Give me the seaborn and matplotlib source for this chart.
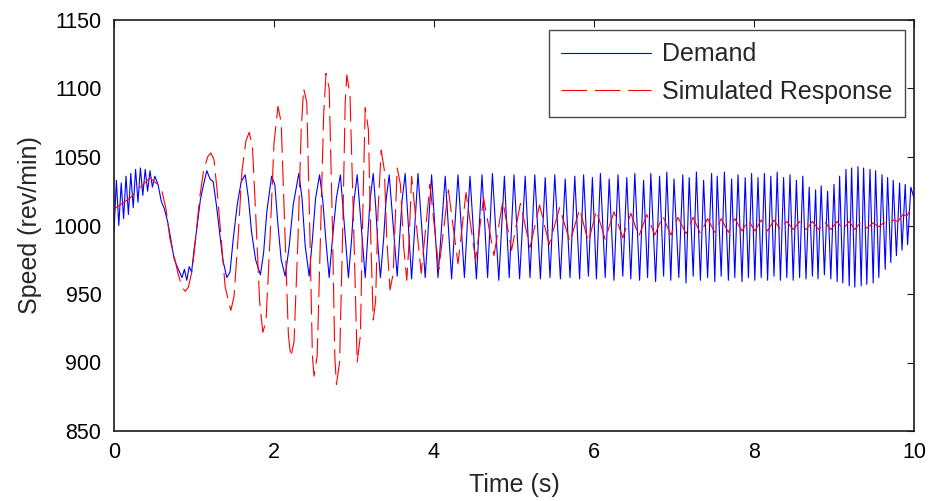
import matplotlib
matplotlib.use("Agg")
import matplotlib.pyplot as plt
import seaborn as sns
import pandas as pd

# ---- Demand (key points) ----
demand_t = [
    0.00, 0.03, 0.06, 0.09, 0.12, 0.15, 0.18, 0.21, 0.24, 0.27, 0.30, 0.33, 0.36, 0.39, 0.42, 0.45, 0.48, 0.51,
    0.55, 0.59, 0.63, 0.67, 0.71, 0.75, 0.79, 0.82, 0.85, 0.88, 0.91, 0.94, 0.97, 1.00, 1.04, 1.08, 1.12, 1.16,
    1.20, 1.24, 1.28, 1.32, 1.36, 1.41, 1.45, 1.49, 1.54, 1.59, 1.64, 1.68, 1.72, 1.77, 1.83, 1.87, 1.91, 1.97,
    2.01, 2.05, 2.09, 2.14, 2.19, 2.24, 2.31, 2.35, 2.39, 2.44, 2.48, 2.52, 2.57, 2.61, 2.65, 2.69, 2.73, 2.78,
    2.83, 2.86, 2.90, 2.93, 2.97, 3.00, 3.04, 3.07, 3.11, 3.14, 3.17, 3.20, 3.24, 3.27, 3.30, 3.33, 3.37, 3.40,
    3.44, 3.47, 3.51, 3.54, 3.57, 3.60,
    3.64, 3.72, 3.80, 3.89, 3.97, 4.05, 4.14, 4.22, 4.30, 4.38, 4.45, 4.53, 4.60, 4.67, 4.73, 4.81, 4.88, 4.94,
    5.00, 5.07, 5.14, 5.20, 5.26, 5.33, 5.39, 5.45, 5.51, 5.58, 5.64, 5.70, 5.76, 5.82, 5.87, 5.93, 5.98, 6.03,
    6.08, 6.14, 6.19, 6.25, 6.30, 6.36, 6.41, 6.46, 6.51, 6.57, 6.62, 6.67, 6.71, 6.77, 6.82, 6.87, 6.91, 6.96,
    7.00, 7.06, 7.11, 7.15, 7.19, 7.24, 7.28, 7.33, 7.37, 7.42, 7.47, 7.51, 7.54, 7.59, 7.63, 7.68, 7.72, 7.76,
    7.80, 7.85, 7.89, 7.93, 7.97, 8.01, 8.05, 8.09, 8.13, 8.17, 8.21, 8.25, 8.29, 8.33, 8.37, 8.41, 8.45, 8.49,
    8.53, 8.57, 8.61, 8.65, 8.69, 8.73, 8.77, 8.80, 8.84, 8.88, 8.92, 8.96, 9.00, 9.04, 9.07, 9.11, 9.15, 9.19,
    9.22, 9.26, 9.30, 9.34, 9.37, 9.41, 9.45, 9.49, 9.52, 9.56, 9.60, 9.64, 9.67, 9.71, 9.74, 9.78, 9.82, 9.85,
    9.89, 9.92, 9.96, 10.00,
]
demand_v = [
    995, 1033, 1000, 1031, 1005, 1036, 1008, 1038, 1013, 1041, 1017, 1042, 1022, 1041, 1025, 1040, 1028, 1036,
    1030, 1018, 1012, 1003, 990, 976, 970, 966, 962, 968, 960, 970, 966, 982, 1000, 1019, 1030, 1040,
    1034, 1032, 1015, 995, 975, 962, 966, 990, 1015, 1032, 1037, 1020, 995, 975, 964, 980, 1010, 1036,
    1030, 1000, 975, 963, 985, 1015, 1038, 1020, 985, 963, 990, 1020, 1037, 1018, 988, 962, 990, 1020,
    1037, 1015, 985, 962, 990, 1018, 1037, 1015, 985, 962, 990, 1018, 1038, 1015, 985, 962, 990, 1018,
    1037, 1015, 985, 963, 990, 1018,
    1038, 961, 1038, 962, 1037, 962, 1036, 961, 1037, 962, 1036, 961, 1037, 962, 1038, 960, 1036, 962,
    1037, 961, 1036, 962, 1037, 961, 1035, 962, 1037, 961, 1034, 962, 1036, 961, 1037, 963, 1035, 961,
    1038, 962, 1034, 960, 1037, 963, 1035, 961, 1038, 960, 1033, 962, 1038, 959, 1036, 963, 1039, 960,
    1034, 962, 1037, 958, 1035, 963, 1039, 960, 1033, 962, 1038, 959, 1036, 963, 1039, 960, 1034, 962,
    1037, 959, 1035, 962, 1038, 960, 1035, 962, 1038, 960, 1036, 963, 1039, 960, 1035, 962, 1037, 960,
    1033, 962, 1036, 961, 1028, 963, 1026, 961, 1029, 964, 1025, 961, 1030, 959, 1036, 958, 1041, 956,
    1042, 955, 1043, 956, 1042, 957, 1041, 958, 1040, 962, 1037, 968, 1035, 973, 1033, 978, 1031, 982,
    1030, 986, 1028, 1020,
]

# ---- Simulated response (key points) ----
response_t = [
    0.00, 0.10, 0.20, 0.30, 0.40, 0.45, 0.50, 0.55, 0.60, 0.65, 0.70, 0.75, 0.80, 0.85, 0.89, 0.93, 0.98, 1.02,
    1.07, 1.12, 1.17, 1.21, 1.25, 1.29, 1.34, 1.39, 1.46, 1.50, 1.55, 1.60, 1.65, 1.69, 1.73, 1.77, 1.82, 1.86,
    1.90, 1.95, 2.00, 2.05, 2.09, 2.14, 2.18, 2.21, 2.25, 2.30, 2.34, 2.37, 2.41, 2.45, 2.48, 2.50, 2.54, 2.58,
    2.62, 2.65, 2.69, 2.73, 2.76, 2.78, 2.82, 2.86, 2.89, 2.91, 2.95, 3.00, 3.04, 3.08, 3.11, 3.14, 3.18, 3.21,
    3.24, 3.27, 3.30, 3.34, 3.38, 3.41, 3.45, 3.49, 3.52, 3.54, 3.58, 3.62, 3.66, 3.69,
    3.72, 3.84, 3.95, 4.06, 4.18, 4.30, 4.40, 4.52, 4.62, 4.75, 4.86, 4.97, 5.08, 5.20, 5.32, 5.44, 5.57, 5.70,
    5.82, 5.93, 6.03, 6.14, 6.25, 6.36, 6.46, 6.56, 6.66, 6.76, 6.86, 6.96, 7.05, 7.15, 7.24, 7.33, 7.42, 7.51,
    7.59, 7.68, 7.76, 7.85, 7.93, 8.01, 8.09, 8.17, 8.25, 8.33, 8.41, 8.49, 8.57, 8.65, 8.73, 8.81, 8.88, 8.96,
    9.04, 9.11, 9.19, 9.26, 9.34, 9.41, 9.49, 9.56, 9.62, 9.68, 9.74, 9.80, 9.86, 9.91, 9.96, 10.00,
]
response_v = [
    1012, 1016, 1020, 1026, 1032, 1035, 1032, 1030, 1025, 1012, 990, 978, 965, 955, 952, 955, 968, 990,
    1020, 1040, 1050, 1053, 1048, 1025, 990, 955, 938, 948, 990, 1040, 1062, 1068, 1058, 1010, 945, 922,
    930, 990, 1060, 1087, 1075, 990, 920, 904, 915, 990, 1070, 1100, 1090, 990, 905, 890, 905, 990,
    1080, 1111, 1100, 1000, 905, 884, 900, 1000, 1090, 1110, 1095, 990, 900, 920, 1010, 1086, 1070, 990,
    931, 945, 1010, 1055, 1040, 990, 953, 965, 1010, 1042, 1030, 985, 960, 990,
    1036, 965, 1030, 968, 1026, 972, 1024, 975, 1020, 978, 1018, 982, 1016, 984, 1015, 986, 1013, 988,
    1012, 988, 1011, 990, 1010, 991, 1009, 992, 1008, 993, 1007, 993, 1006, 994, 1006, 994, 1005, 995,
    1005, 995, 1005, 996, 1004, 996, 1004, 996, 1004, 997, 1003, 997, 1003, 997, 1003, 997, 1003, 997,
    1003, 997, 1003, 997, 1003, 998, 1002, 999, 1002, 1001, 1004, 1003, 1008, 1007, 1012, 1011,
]

x_ticks = [0, 2, 4, 6, 8, 10]
y_ticks = [850, 900, 950, 1000, 1050, 1100, 1150]

sns.set_theme(style="white")
plt.rcParams["font.family"] = ["Liberation Sans", "DejaVu Sans"]
plt.rcParams["axes.edgecolor"] = "#1a1a1a"
plt.rcParams["axes.linewidth"] = 1.2

fig = plt.figure(figsize=(9.33, 5.01), dpi=100)
ax = fig.add_axes([114 / 933, 1 - 431 / 501, 800 / 933, 411 / 501])

df_d = pd.DataFrame({"t": demand_t, "v": demand_v})
df_r = pd.DataFrame({"t": response_t, "v": response_v})

sns.lineplot(data=df_d, x="t", y="v", ax=ax, color="#0000ff", linewidth=0.8,
             estimator=None, sort=False, label="Demand")
sns.lineplot(data=df_r, x="t", y="v", ax=ax, color="#ff0000", linewidth=0.8,
             estimator=None, sort=False, label="Simulated Response", linestyle=(0, (23, 7)))

ax.set_xlim(0, 10)
ax.set_ylim(850, 1150)
ax.set_xticks(x_ticks)
ax.set_yticks(y_ticks)
ax.tick_params(direction="in", length=5, width=0.8, labelsize=15.5, colors="#1a1a1a",
               top=True, right=True)
ax.tick_params(axis="y", pad=9)
ax.tick_params(axis="x", pad=8)
ax.tick_params(labelcolor="black")
ax.set_xlabel("Time (s)", fontsize=18, labelpad=7)
ax.set_ylabel("Speed (rev/min)", fontsize=18, labelpad=8)

leg = ax.legend(loc="upper right", bbox_to_anchor=(0.989, 0.976), fontsize=18, frameon=True,
                fancybox=False, edgecolor="#1a1a1a", handlelength=3.6, borderpad=0.5,
                labelspacing=0.55, handletextpad=0.45, borderaxespad=0.0)
leg.get_frame().set_linewidth(1.0)
for h in leg.get_lines():
    h.set_linewidth(0.8)

fig.savefig("out.png", dpi=100)
